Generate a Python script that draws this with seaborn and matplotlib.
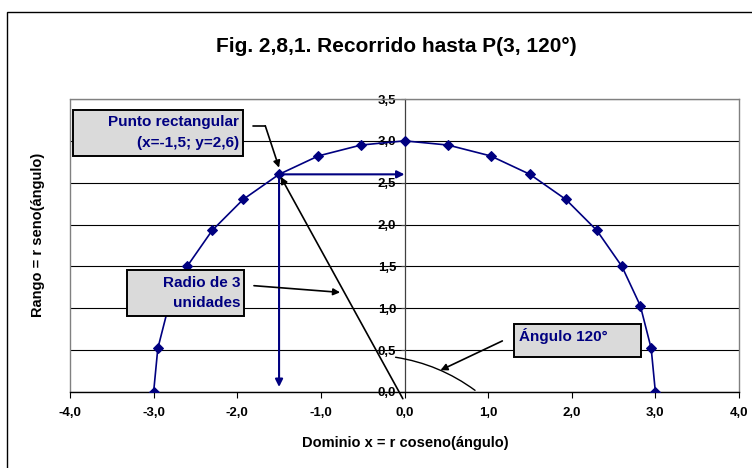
import matplotlib
matplotlib.use("Agg")
import matplotlib.pyplot as plt
from matplotlib import font_manager
from matplotlib.patches import Rectangle, FancyArrowPatch
import pandas as pd
import seaborn as sns

# puntos del recorrido (r = 3, de 0° a 180° cada 10°)
x_vals = [3.0, 2.95, 2.82, 2.6, 2.3, 1.93, 1.5, 1.03, 0.52, 0.0,
          -0.52, -1.03, -1.5, -1.93, -2.3, -2.6, -2.82, -2.95, -3.0]
y_vals = [0.0, 0.52, 1.03, 1.5, 1.93, 2.3, 2.6, 2.82, 2.95, 3.0,
          2.95, 2.82, 2.6, 2.3, 1.93, 1.5, 1.03, 0.52, 0.0]
p_x, p_y = -1.5, 2.6
x_ticks = [-4.0, -3.0, -2.0, -1.0, 0.0, 1.0, 2.0, 3.0, 4.0]
y_ticks = [0.0, 0.5, 1.0, 1.5, 2.0, 2.5, 3.0, 3.5]

titulo = "Fig. 2,8,1. Recorrido hasta P(3, 120°)"
eje_x = "Dominio x = r coseno(ángulo)"
eje_y = "Rango = r seno(ángulo)"

navy = "#000080"
box_fc = "#DADADA"

sns.set_style("white")
plt.rcParams['font.family'] = ['Liberation Sans', 'DejaVu Sans']
plt.rcParams['text.color'] = 'black'
names = {f.name for f in font_manager.fontManager.ttflist}
title_font = 'Liberation Sans Narrow' if 'Liberation Sans Narrow' in names else 'Liberation Sans'
title_size = 17 if title_font == 'Liberation Sans Narrow' else 15

fig = plt.figure(figsize=(7.52, 4.68), dpi=100)
ax = fig.add_axes([70 / 752, 1 - 392 / 468, 669 / 752, 293 / 468])

df = pd.DataFrame({'x': x_vals, 'y': y_vals})
sns.lineplot(data=df, x='x', y='y', sort=False, color=navy, lw=1.2,
             marker='D', markersize=5.5, markeredgecolor=navy, ax=ax, zorder=4)

ax.set_xlim(-4, 4)
ax.set_ylim(0, 3.5)
ax.set_xticks(x_ticks)
ax.set_yticks(y_ticks)
ax.set_xticklabels([f"{v:.1f}".replace('.', ',') for v in x_ticks])
ax.set_yticklabels([f"{v:.1f}".replace('.', ',') for v in y_ticks])
ax.set_xlabel("")
ax.set_ylabel("")

ax.yaxis.grid(True, color='black', lw=0.8)
ax.xaxis.grid(False)
ax.set_axisbelow(True)

ax.spines['left'].set_position(('data', 0))
ax.spines['left'].set_color('#404040')
ax.spines['left'].set_linewidth(0.9)
ax.spines['bottom'].set_color('black')
ax.spines['bottom'].set_linewidth(1.0)
for s in ['top', 'right']:
    ax.spines[s].set_visible(True)
    ax.spines[s].set_color('#808080')
    ax.spines[s].set_linewidth(1.0)
ax.axvline(-4, color='#808080', lw=1.0, clip_on=False)

ax.tick_params(axis='x', direction='out', length=4, width=0.8, color='black',
               labelcolor='black', labelsize=9.5, pad=7, bottom=True)
ax.tick_params(axis='y', direction='out', length=3, width=0.8, color='#404040',
               labelcolor='black', labelsize=9.5, pad=3, left=True)
for lbl in ax.get_xticklabels() + ax.get_yticklabels():
    lbl.set_fontweight('bold')

# flechas azules desde P
arrow_navy = dict(arrowstyle='-|>', color=navy, lw=1.5, shrinkA=0, shrinkB=0,
                  mutation_scale=11)
ax.annotate('', xy=(0.0, p_y), xytext=(p_x, p_y), arrowprops=arrow_navy, zorder=5)
ax.annotate('', xy=(p_x, 0.06), xytext=(p_x, p_y), arrowprops=arrow_navy, zorder=5)

# radio
arrow_blk = dict(arrowstyle='-|>', color='black', lw=1.2, shrinkA=0, shrinkB=0,
                 mutation_scale=10)
ax.annotate('', xy=(-1.48, 2.57), xytext=(-0.02, -0.08), arrowprops=arrow_blk,
            zorder=5, annotation_clip=False)

# arco del ángulo
arc = FancyArrowPatch((-0.14, 0.42), (0.87, 0.0), connectionstyle='arc3,rad=-0.13',
                      arrowstyle='-', color='black', lw=1.0, zorder=3)
ax.add_patch(arc)

# cuadros de texto
def caja(x0, y0, x1, y1):
    ax.add_patch(Rectangle((x0, y0), x1 - x0, y1 - y0, fc=box_fc, ec='black',
                           lw=1.4, zorder=6, clip_on=False))

txt = dict(color=navy, fontweight='bold', fontsize=11, zorder=7, va='center')

caja(-3.96, 2.82, -1.93, 3.37)
ax.text(-1.98, 3.23, "Punto rectangular", ha='right', **txt)
ax.text(-1.98, 2.97, "(x=-1,5; y=2,6)", ha='right', **txt)
ax.plot([-1.81, -1.665], [3.18, 3.18], color='black', lw=1.2, zorder=5)
ax.annotate('', xy=(-1.50, 2.68), xytext=(-1.665, 3.18), arrowprops=arrow_blk, zorder=5)

caja(-3.32, 0.91, -1.92, 1.46)
ax.text(-1.96, 1.30, "Radio de 3", ha='right', **txt)
ax.text(-1.96, 1.06, "unidades", ha='right', **txt)
ax.annotate('', xy=(-0.77, 1.19), xytext=(-1.80, 1.27), arrowprops=arrow_blk, zorder=5)

caja(1.31, 0.42, 2.83, 0.81)
ax.text(1.37, 0.665, "Ángulo 120°", ha='left', **txt)
ax.annotate('', xy=(0.43, 0.26), xytext=(1.17, 0.61), arrowprops=arrow_blk, zorder=5)

# títulos
fig.text(396 / 752, 1 - 46 / 468, titulo, ha='center', va='center', color='black',
         fontsize=title_size, fontweight='bold', family=[title_font, 'DejaVu Sans'])
fig.text(405 / 752, 1 - 443 / 468, eje_x, ha='center', va='center', color='black',
         fontsize=10.5, fontweight='bold')
fig.text(38 / 752, 1 - 235 / 468, eje_y, ha='center', va='center', rotation=90,
         color='black', fontsize=10.5, fontweight='bold')

# borde del área del gráfico
fig.add_artist(Rectangle((7 / 752, -0.5), 1.5, 1.5 - 12 / 468, transform=fig.transFigure,
                         fill=False, ec='black', lw=1.0))

fig.savefig("out.png", dpi=100)
